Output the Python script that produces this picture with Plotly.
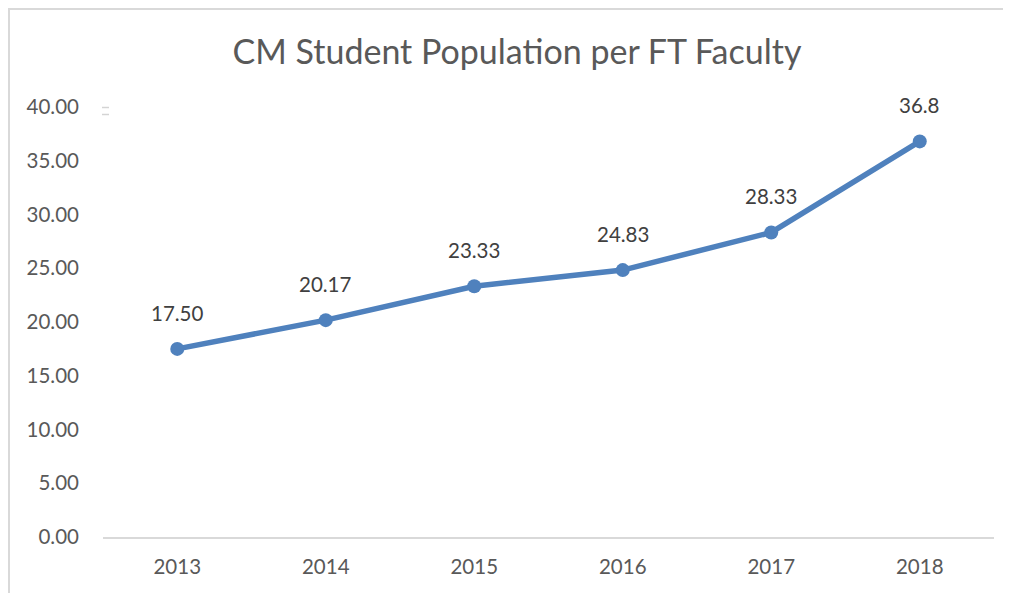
import plotly.graph_objects as go

years = [2013, 2014, 2015, 2016, 2017, 2018]
values = [17.50, 20.17, 23.33, 24.83, 28.33, 36.8]
labels = ["17.50", "20.17", "23.33", "24.83", "28.33", "36.8"]
yticks = [0, 5, 10, 15, 20, 25, 30, 35, 40]
ytick_text = ["0.00", "5.00", "10.00", "15.00", "20.00", "25.00", "30.00", "35.00", "40.00"]

# page body has an 8px margin, so figure coordinates = screen coordinates - 8
OFF = 8
W, H = 1011 - OFF, 593 - OFF
ml, mt = 103 - OFF, 107 - OFF
plot_right, plot_bottom = 994 - OFF, 537 - OFF
mr, mb = W - plot_right, H - plot_bottom
pw, ph = W - ml - mr, H - mt - mb

FONT = "Lato"
LINE = "#4f81bd"
SMALL = 20.5

fig = go.Figure()
fig.add_trace(go.Scatter(
    x=years, y=values, mode="lines+markers",
    line=dict(color=LINE, width=5.5),
    marker=dict(color=LINE, size=14),
    hoverinfo="skip", showlegend=False,
))

for x, y, t in zip(years, values, labels):
    fig.add_annotation(x=x, y=y, xref="x", yref="y", text=t, showarrow=False, yshift=36,
                       font=dict(family=FONT, size=SMALL, color="#404040"))

px = lambda v: (v - OFF - ml) / pw
py = lambda v: (H - mb - (v - OFF)) / ph

# faint "=" mark next to the top tick
for yy in (107.5, 114.5):
    fig.add_shape(type="line", xref="paper", yref="paper", x0=px(102), x1=px(109), y0=py(yy), y1=py(yy),
                  line=dict(color="#d4d4d4", width=1.5))

# outer chart border (top and left)
fig.add_shape(type="line", xref="paper", yref="paper", x0=px(8), x1=px(1020), y0=py(9), y1=py(9),
              line=dict(color="#d9d9d9", width=2))
fig.add_shape(type="line", xref="paper", yref="paper", x0=px(9), x1=px(9), y0=py(8), y1=py(600),
              line=dict(color="#d9d9d9", width=2))

fig.update_layout(
    width=W, height=H,
    margin=dict(l=ml, r=mr, t=mt, b=mb),
    paper_bgcolor="white", plot_bgcolor="white",
    title=dict(text="CM Student Population per FT Faculty", xref="container", yref="container",
               x=(517 - OFF) / W, y=1 - (52 - OFF) / H, xanchor="center", yanchor="middle",
               font=dict(family=FONT, size=34, color="#595959")),
    xaxis=dict(range=[years[0] - 0.5, years[-1] + 0.5], tickvals=years,
               ticktext=[str(v) for v in years], showgrid=False, zeroline=False, showline=True,
               linecolor="#d9d9d9", linewidth=2, ticks="",
               tickfont=dict(family=FONT, size=SMALL, color="#595959"), ticklabelstandoff=10),
    yaxis=dict(range=[0, 40], tickvals=yticks, ticktext=ytick_text, showgrid=False,
               zeroline=False, showline=False, ticks="",
               tickfont=dict(family=FONT, size=SMALL, color="#595959"), ticklabelstandoff=23),
    font=dict(family=FONT),
)

fig.write_html("out.html")
